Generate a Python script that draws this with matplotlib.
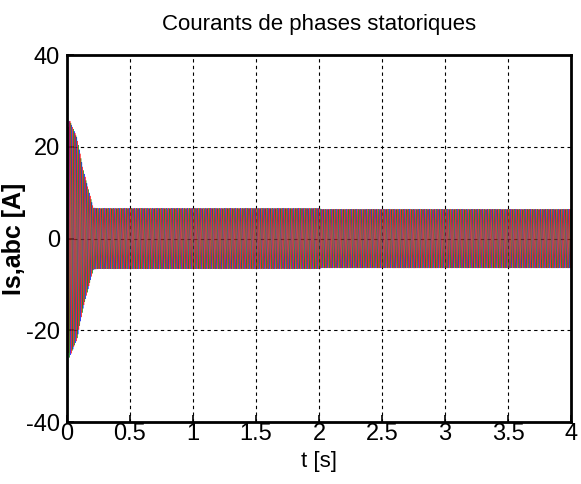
import numpy as np
import matplotlib.pyplot as plt

plt.rcParams['font.family'] = ['Liberation Sans', 'DejaVu Sans']
plt.rcParams['axes.unicode_minus'] = False

# envelope of the phase currents (time [s], peak [A])
env_t = [0.0, 0.01, 0.02, 0.08, 0.13, 0.21, 0.25, 2.0, 2.02, 4.0]
env_a = [0.0, 24.0, 26.0, 22.0, 15.0, 6.7, 6.6, 6.6, 6.4, 6.4]
f_s = 50.0          # supply frequency [Hz]
dt = 7e-4
phase_colors = ['r', 'g', 'b']
phase_shift = [0.0, -2 * np.pi / 3, 2 * np.pi / 3]

t = np.arange(0, 4 + dt, dt)
amp = np.interp(t, env_t, env_a)

fig = plt.figure(figsize=(5.81, 4.84), dpi=100)
ax = fig.add_axes([0.115, 0.128, 0.868, 0.758])

for c, ph in zip(phase_colors[::-1], phase_shift[::-1]):
    ax.plot(t, amp * np.sin(2 * np.pi * f_s * t + ph), color=c, lw=0.5, alpha=0.75)

ax.set_xlim(0, 4)
ax.set_ylim(-40, 40)
ax.set_xticks([0, 0.5, 1, 1.5, 2, 2.5, 3, 3.5, 4])
ax.set_xticklabels(['0', '0.5', '1', '1.5', '2', '2.5', '3', '3.5', '4'])
ax.set_yticks([-40, -20, 0, 20, 40])
ax.grid(True, color='black', linestyle=(0, (3, 3)), linewidth=0.8)
ax.tick_params(direction='in', labelsize=17, length=5, width=1.2)
ax.tick_params(axis='x', pad=1)
ax.tick_params(axis='y', pad=5)
for s in ax.spines.values():
    s.set_linewidth(2)

ax.set_title('Courants de phases statoriques', fontsize=16, pad=18)
ax.set_xlabel('t [s]', fontsize=16, labelpad=4)
ax.set_ylabel('Is,abc [A]', fontsize=18, fontweight='bold', labelpad=0)

fig.savefig('out.png', dpi=100)
